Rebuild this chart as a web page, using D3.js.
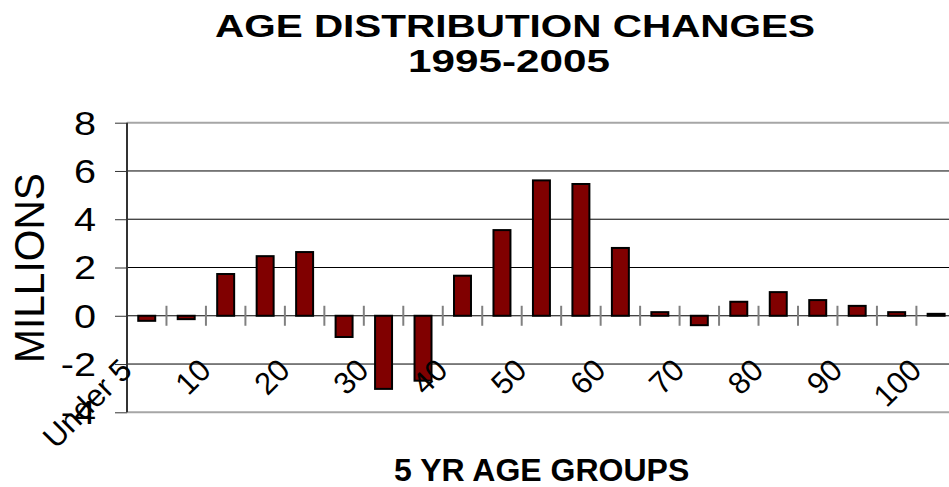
<!DOCTYPE html>
<html>
<head>
<meta charset="utf-8">
<script src="https://cdn.jsdelivr.net/npm/d3@7"></script>
<style>
  html, body { margin: 0; padding: 0; background: #fff; }
  svg { display: block; }
  text { font-family: "Liberation Sans", Arial, sans-serif; fill: #000; }
</style>
</head>
<body>
<svg id="chart" width="949" height="487"></svg>
<script>
// ---- data ----
const categories = ["Under 5","5","10","15","20","25","30","35","40","45","50",
                    "55","60","65","70","75","80","85","90","95","100"];
const values = [-0.21,-0.14,1.73,2.47,2.64,-0.88,-3.03,-2.69,1.66,3.55,5.61,
                5.46,2.81,0.15,-0.39,0.58,0.98,0.65,0.41,0.15,0.08];
const tickLabels = ["Under 5","10","20","30","40","50","60","70","80","90","100"];
const yTicks = [-4,-2,0,2,4,6,8];
const titleLines = ["AGE DISTRIBUTION CHANGES","1995-2005"];
const xTitle = "5 YR AGE GROUPS";
const yTitle = "MILLIONS";

// ---- layout ----
const W = 949, H = 487;
const plotLeft = 127, plotTop = 122.7, plotBottom = 412.3;
const step = 39.47;
const plotRight = plotLeft + categories.length * step;

const svg = d3.select("#chart");

const x = d3.scaleBand().domain(categories).range([plotLeft, plotRight])
  .paddingInner(0.57).paddingOuter(0.285);
const y = d3.scaleLinear().domain([-4, 8]).range([plotBottom, plotTop]);

// gridlines
const gridG = svg.append("g");
gridG.selectAll("line").data(yTicks).join("line")
  .attr("x1", plotLeft).attr("x2", W)
  .attr("y1", d => y(d)).attr("y2", d => y(d))
  .attr("stroke", d => (d === 8 || d === -4) ? "#a6a6a6" : "#000")
  .attr("stroke-width", d => (d === 8 || d === -4) ? 2 : 1);

// y axis ticks
const yAxis = d3.axisLeft(y).tickValues(yTicks).tickSize(12).tickFormat("");
const yg = svg.append("g").attr("transform", `translate(${plotLeft},0)`).call(yAxis);
yg.select(".domain").remove();
yg.selectAll(".tick line").attr("stroke", "#333").attr("stroke-width", 1);

// y tick labels (slightly widened)
svg.append("g").selectAll("text").data(yTicks).join("text")
  .attr("transform", d => `translate(96,${y(d)}) scale(1.2,1)`)
  .attr("text-anchor", "end")
  .attr("dy", "0.36em")
  .style("font-size", "33px")
  .text(d => d);

// bars
svg.append("g").selectAll("rect").data(values).join("rect")
  .attr("x", (d, i) => x(categories[i]))
  .attr("width", x.bandwidth())
  .attr("y", d => y(Math.max(0, d)))
  .attr("height", d => Math.abs(y(d) - y(0)))
  .attr("fill", "#800000")
  .attr("stroke", "#000")
  .attr("stroke-width", 2);

// x axis ticks at category boundaries (crossing zero line)
const boundaries = d3.range(1, categories.length + 1).map(i => x.step() * i + plotLeft);
svg.append("g").selectAll("line").data(boundaries).join("line")
  .attr("x1", d => d).attr("x2", d => d)
  .attr("y1", y(0) - 10).attr("y2", y(0) + 10)
  .attr("stroke", "#808080").attr("stroke-width", 2);

// y axis line
svg.append("line")
  .attr("x1", plotLeft).attr("x2", plotLeft).attr("y1", plotTop).attr("y2", plotBottom)
  .attr("stroke", "#333").attr("stroke-width", 2);

// x tick labels (rotated)
const labIdx = d3.range(0, categories.length, 2);
svg.append("g").selectAll("text").data(tickLabels).join("text")
  .attr("transform", (d, i) => {
    const cx = x(categories[labIdx[i]]) + x.bandwidth() / 2;
    return `translate(${cx - 13},372) rotate(-45)`;
  })
  .attr("text-anchor", "end")
  .style("font-size", "31px")
  .text(d => d);

// title
svg.append("text").attr("x", 515).attr("y", 37)
  .attr("text-anchor", "middle")
  .attr("textLength", 600).attr("lengthAdjust", "spacingAndGlyphs")
  .style("font-size", "31px").style("font-weight", "bold")
  .text(titleLines[0]);
svg.append("text").attr("x", 509).attr("y", 72)
  .attr("text-anchor", "middle")
  .attr("textLength", 202).attr("lengthAdjust", "spacingAndGlyphs")
  .style("font-size", "31px").style("font-weight", "bold")
  .text(titleLines[1]);

// axis titles
svg.append("text").attr("transform", "translate(43.5,268) rotate(-90)")
  .attr("text-anchor", "middle")
  .attr("textLength", 190).attr("lengthAdjust", "spacingAndGlyphs")
  .style("font-size", "42px")
  .text(yTitle);
svg.append("text").attr("x", 541.7).attr("y", 481)
  .attr("text-anchor", "middle")
  .style("font-size", "32px").style("font-weight", "bold")
  .text(xTitle);
</script>
</body>
</html>
